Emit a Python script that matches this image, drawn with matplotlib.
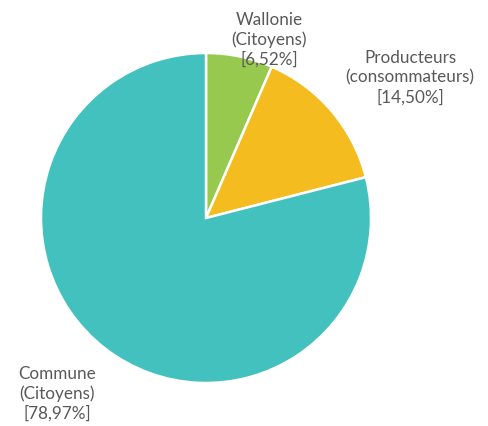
import matplotlib
matplotlib.use("Agg")
import matplotlib.pyplot as plt

labels = ["Wallonie\n(Citoyens)", "Producteurs\n(consommateurs)", "Commune\n(Citoyens)"]
shares = [6.52, 14.50, 78.97]
colors = ["#97C94F", "#F4BC1F", "#43C1BF"]
label_pos = [(269, 40), (410, 78), (57, 394)]

W, H = 488, 427
fig = plt.figure(figsize=(4.88, 4.27), dpi=100)
ax = fig.add_axes([0, 0, 1, 1])

ax.pie(shares, colors=colors, startangle=90, counterclock=False,
       center=(206, H - 219), radius=165,
       wedgeprops=dict(edgecolor="white", linewidth=1.8))

for lab, val, (x, y) in zip(labels, shares, label_pos):
    txt = lab + "\n[" + f"{val:.2f}".replace(".", ",") + "%]"
    ax.text(x, H - y, txt, ha="center", va="center", fontsize=12.3,
            family="Lato", color="#595959", linespacing=1.25)

ax.set_xlim(0, W)
ax.set_ylim(0, H)
ax.set_aspect("auto")
ax.axis("off")

fig.savefig("out.png", dpi=100)
